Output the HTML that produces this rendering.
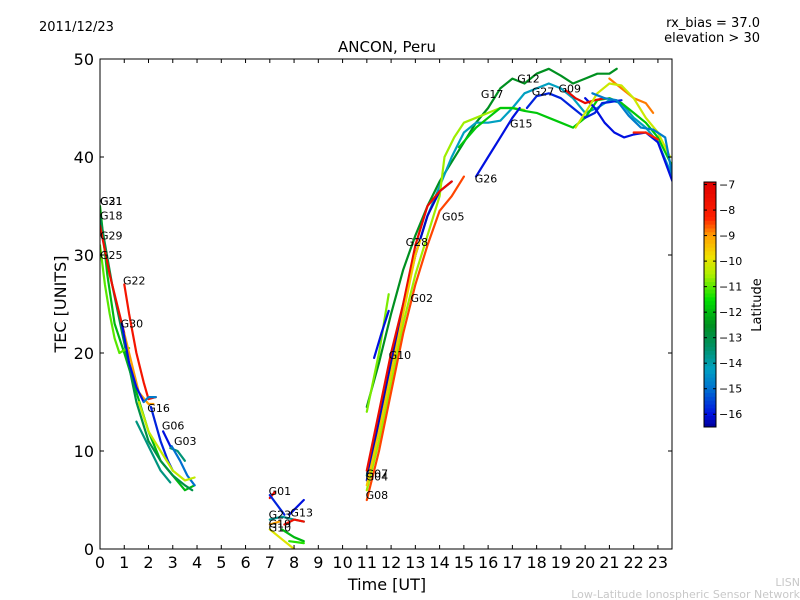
<!DOCTYPE html>
<html><head><meta charset="utf-8"><style>
html,body{margin:0;padding:0;background:#fff;}
svg{display:block;font-family:"DejaVu Sans","Liberation Sans",sans-serif;}
</style></head><body>
<svg id="chart" width="800" height="600" viewBox="0 0 800 600">
<rect width="800" height="600" fill="#fff"/>
<text x="39" y="31" font-size="13">2011/12/23</text>
<text x="760" y="27" font-size="13" text-anchor="end">rx_bias = 37.0</text>
<text x="760" y="42" font-size="13" text-anchor="end">elevation &gt; 30</text>
<text x="387" y="52" font-size="15" text-anchor="middle">ANCON, Peru</text>
<text x="387" y="590" font-size="16" text-anchor="middle">Time [UT]</text>
<text transform="translate(66,304) rotate(-90)" font-size="16" text-anchor="middle">TEC [UNITS]</text>
<text x="800" y="586" font-size="11" fill="#c8c8c8" text-anchor="end">LISN</text>
<text x="800" y="598" font-size="11" fill="#c8c8c8" text-anchor="end">Low-Latitude Ionospheric Sensor Network</text>
<g id="plot"></g>
<g id="cbar"></g>
</svg>
<script>
const xTicks=[0,1,2,3,4,5,6,7,8,9,10,11,12,13,14,15,16,17,18,19,20,21,22,23];
const yTicks=[0,10,20,30,40,50];
const cbTicks=[-7,-8,-9,-10,-11,-12,-13,-14,-15,-16];
const latMin=-16.5, latMax=-6.9;
const trackNames=["g31","g18","g25","g29a","g29b","g22","g30a","g30b","g16","g06","g06b","g03","teal-l","yel-l",
"g01r","g01b","g13","mid-teal","mid-red","mid-yel","mid-grn","mid-grn2","mid-org",
"r-dg","r-teal","r-yg","r-green","r-blue26","r-blue27","r-blue2","r-blue3","r-red","r-g08","r-yel","r-lg","r-blue10","r-red2","r-org","r-orng2","r-lgreen2","r-cy"];
const trackLats=[-12,-13,-11,-7.5,-9,-7.8,-16,-14.8,-15.8,-16,-13.5,-15,-13.6,-10.3,
-7.3,-15.8,-16,-13.8,-7.6,-10,-12,-11.3,-9,
-12.5,-14.2,-10.6,-11.8,-16,-15.8,-16,-16.2,-7.4,-8.5,-9.5,-10.8,-16,-7.2,-8.8,-8.3,-10.2,-14.8];
const trackTimes=[
[0,0.3,0.6,1,1.5,2,2.5,3,3.5,3.9],
[0,0.5,1,1.5,2,2.5,3,3.5,3.8],
[0,0.2,0.4,0.6,0.8,1,1.2],
[0,0.4,0.8,1],
[1,1.2,1.6,2,2.2],
[1,1.2,1.5,1.8,2,2.3],
[0.9,1.2,1.5,1.8],
[1.8,2,2.3],
[2.1,2.5,2.8,3],
[2.6,2.9],
[2.9,3.2,3.5],
[2.95,3.3,3.6,3.9],
[1.5,2,2.5,2.9],
[1.6,2,2.5,3,3.5,3.9],
[7,7.2],
[7,7.3,7.6],
[7.8,8,8.4],
[7,7.5,8,8.4],
[7.6,8,8.4],
[7,7.5,8],
[7.5,8,8.4],
[7.8,8.4],
[7,7.4],
[11,11.5,12,12.5,13,13.5,14,14.5,15,15.5,16,16.5,17,17.5,18,18.5,19,19.5,20,20.5,21,21.3],
[11,11.5,12,12.5,13,13.5,14,14.5,15,15.5,16,16.5,17,17.5,18,18.5,19,19.5,20,20.5,21,21.5,22,22.5,23,23.6],
[11,11.5,12,12.5,13,13.5,14,14.2,14.6,15,15.5,16,16.5,17,17.5],
[14.8,15.5,16,16.5,17,17.5,18,18.5,19,19.5,20,20.5,21,21.5,22,22.5,23,23.6],
[15.5,16,16.5,17,17.3],
[17.6,18,18.5,19,19.5,20,20.4,20.7,21,21.5],
[20,20.4,20.8,21.2,21.6,22,22.5,23,23.6],
[11,11.5,12,12.5,13,13.5,14,14.5],
[11,11.5,12,12.5,13,13.5,14,14.5],
[11,11.5,12,12.5,13,13.5,14,14.5,15],
[11,11.5,12,12.5,13,13.2],
[11,11.5,11.9],
[11.3,11.6,11.9],
[19.2,19.6,20,20.4,20.8],
[21,21.5,22,22.5,22.8],
[22,22.5,23],
[19.6,20,20.5,21,21.5,22,22.5,23,23.5],
[20.3,20.8,21.3,21.8,22.3,22.8,23.3,23.6]
];
const trackTec=[
[35,28,23,20,16,12,9,7.5,6,6.5],
[34,27,21,15,11,9,7.5,6.5,6],
[31,27,24,21.5,20,20.3,20.5],
[33,28,24,22],
[22,20,16,14.8,14.8],
[27,24,20,17,15.3,15.5],
[23,19,16.5,15],
[15,15.5,15.5],
[14.5,11,9,8],
[12,10.5],
[10.3,10,9],
[10.5,9,7.5,6.5],
[13,10.5,8,6.8],
[15,12,10,8,7,7.3],
[5.2,5.8],
[5.5,4.5,3.5],
[3.5,4,5],
[3,3.3,3,2.8],
[2.5,3,2.8],
[2,1,0],
[2,1.2,0.8],
[0.8,0.6],
[2.5,2.8],
[14.5,19,24,28.5,32,35,37.5,39.5,41.5,43.5,45,47,48,47.5,48.5,49,48.3,47.5,48,48.5,48.5,49],
[7.5,13,19,25,30,34,37,40,42.5,43.5,43.5,43.7,45,46.5,47,47.5,47,46,44.5,45,45.8,45.5,44,43,41.5,38],
[6,11,17,23,28,32,36,40,42,43.5,44,44.5,45,45,44.8],
[41,43,44,45,45,44.7,44.5,44,43.5,43,44,45.8,46,45.5,44.5,43.5,42,39],
[38,40,42,44,45],
[45,46.2,46.5,46,45,44,44.5,45.5,45.6,45.8],
[46,45,43.5,42.5,42,42.3,42.5,41.5,37.5],
[7,13,19,24.5,30,34,36.5,37.5],
[8,14,20,25,31,35,36.5,37.5],
[5,10,16,22,27,31,34.5,36,38],
[6.5,12,18,24,30,31.5],
[14,20,26],
[19.5,22,24.3],
[46.8,46,45.5,45.8,46],
[48,47,46,45.5,44.5],
[42.5,42.5,41.8],
[43,44.5,46.5,47.5,47.3,46,44,42.5,40],
[46.5,46,45.8,44.2,43,42.8,42,38]
];
const labelNames=["G21","G31","G18","G29","G25","G22","G30","G16","G06","G03","G01","G23","G13","G19","G10","G07","G04","G08","G10","G02","G28","G05","G26","G15","G17","G12","G27","G09"];
const labelT=[0,0,0,0,0,0.95,0.85,1.95,2.55,3.05,6.95,6.95,7.85,6.95,6.95,10.95,10.95,10.95,11.9,12.8,12.6,14.1,15.45,16.9,15.7,17.2,17.8,18.9];
const labelTec=[35.1,35.1,33.6,31.6,29.6,27,22.6,14,12.2,10.6,5.5,3.1,3.3,2.2,1.8,7.3,7.0,5.1,19.4,25.2,30.9,33.5,37.4,43,46,47.6,46.3,46.6];

const NS="http://www.w3.org/2000/svg";
const X0=100,X1=672,Y0=549,Y1=59,TMAX=23.58,VMAX=50;
function xs(t){return X0+(t/TMAX)*(X1-X0);}
function ys(v){return Y0-(v/VMAX)*(Y0-Y1);}
const cmapStops=[[-16.5,[0,0,150]],[-16,[0,16,224]],[-15,[0,112,208]],[-14.2,[0,160,192]],[-13.3,[0,144,96]],[-12.5,[0,144,32]],[-11.5,[0,224,0]],[-10.5,[176,240,0]],[-9.8,[240,224,0]],[-9,[255,160,0]],[-8.3,[255,32,0]],[-6.9,[224,0,0]]];
function jet(lat){
 if(lat<=cmapStops[0][0])return 'rgb('+cmapStops[0][1].join(',')+')';
 for(let i=1;i<cmapStops.length;i++){if(lat<=cmapStops[i][0]){const a=cmapStops[i-1],b=cmapStops[i];const f=(lat-a[0])/(b[0]-a[0]);
  return 'rgb('+a[1].map((c,k)=>Math.round(c+(b[1][k]-c)*f)).join(',')+')';}}
 return 'rgb('+cmapStops[cmapStops.length-1][1].join(',')+')';}
function mk(tag,attrs,parent){const e=document.createElementNS(NS,tag);for(const k in attrs)e.setAttribute(k,attrs[k]);parent.appendChild(e);return e;}
const plot=document.getElementById('plot');
const cb=document.getElementById('cbar');
const clip=mk('clipPath',{id:'pc'},plot);mk('rect',{x:X0,y:Y1,width:X1-X0,height:Y0-Y1},clip);
const lines=mk('g',{'clip-path':'url(#pc)'},plot);


for(let i=0;i<trackNames.length;i++){
 const pts=trackTimes[i].map((t,j)=>xs(t).toFixed(1)+','+ys(trackTec[i][j]).toFixed(1)).join(' ');
 const pl=mk('polyline',{points:pts,fill:'none',stroke:jet(trackLats[i]),'stroke-width':2.2,'stroke-linejoin':'round','stroke-linecap':'round'},lines);
 
 
}
for(let i=0;i<labelNames.length;i++){
 const tx=mk('text',{x:xs(labelT[i]),y:ys(labelTec[i]),'font-size':11},plot);
 tx.textContent=labelNames[i];
 
 
}
const frame=mk('rect',{x:X0,y:Y1,width:X1-X0,height:Y0-Y1,fill:'none',stroke:'#000','stroke-width':1},plot);


xTicks.forEach(t=>{const x=xs(t);
 mk('line',{x1:x,x2:x,y1:Y0,y2:Y0-4,stroke:'#000'},plot);
 mk('line',{x1:x,x2:x,y1:Y1,y2:Y1+4,stroke:'#000'},plot);
 const tx=mk('text',{x:x,y:Y0+19,'font-size':16,'text-anchor':'middle'},plot);tx.textContent=t;
 
 
});
yTicks.forEach(v=>{const y=ys(v);
 mk('line',{x1:X0,x2:X0+4,y1:y,y2:y,stroke:'#000'},plot);
 mk('line',{x1:X1,x2:X1-4,y1:y,y2:y,stroke:'#000'},plot);
 const tx=mk('text',{x:X0-6,y:y+6,'font-size':16,'text-anchor':'end'},plot);tx.textContent=v;
 
 
});
const CX=704,CW=12,CT=182,CB=427;
function cy(l){return CB-(l-latMin)/(latMax-latMin)*(CB-CT);}
const N=64;
for(let k=0;k<N;k++){const l0=latMin+(latMax-latMin)*k/N,l1=latMin+(latMax-latMin)*(k+1)/N;
 mk('rect',{x:CX,y:cy(l1),width:CW,height:cy(l0)-cy(l1)+0.5,fill:jet((l0+l1)/2)},cb);}
mk('rect',{x:CX,y:CT,width:CW,height:CB-CT,fill:'none',stroke:'#000'},cb);
cbTicks.forEach(l=>{const y=cy(l);
 mk('line',{x1:CX+CW-3,x2:CX+CW,y1:y,y2:y,stroke:'#000'},cb);
 mk('line',{x1:CX,x2:CX+3,y1:y,y2:y,stroke:'#000'},cb);
 const tx=mk('text',{x:CX+CW+3,y:y+4,'font-size':11},cb);tx.textContent='\u2212'+Math.abs(l);
 
 
});
const lt=mk('text',{transform:'translate(761,305) rotate(-90)','font-size':13,'text-anchor':'middle'},cb);
lt.textContent='Latitude';


</script>
</body></html>
